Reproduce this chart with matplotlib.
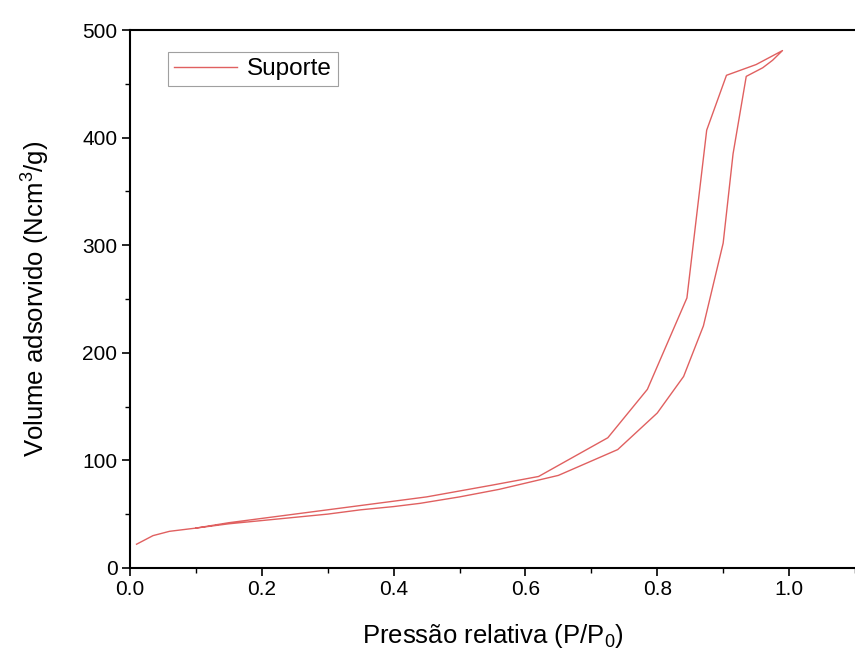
import matplotlib
matplotlib.use("Agg")
import matplotlib.pyplot as plt
from matplotlib.ticker import MultipleLocator

plt.rcParams['font.family'] = ['Liberation Sans', 'DejaVu Sans']
plt.rcParams['mathtext.default'] = 'regular'

# Adsorption branch (lower)
ads_x = [0.01, 0.035, 0.06, 0.10, 0.15, 0.20, 0.25, 0.30, 0.35, 0.40, 0.44, 0.50,
         0.56, 0.65, 0.74, 0.80, 0.84, 0.87, 0.90, 0.915, 0.935, 0.96, 0.975, 0.99]
ads_y = [22, 30, 34, 37, 41, 44, 47, 50, 54, 57, 60, 66,
         73, 86, 110, 144, 178, 225, 302, 385, 457, 465, 472, 481]
# Desorption branch (upper), from high to low pressure
des_x = [0.99, 0.95, 0.905, 0.875, 0.845, 0.785, 0.725, 0.62, 0.55, 0.45, 0.35, 0.25, 0.15, 0.10]
des_y = [481, 468, 458, 407, 251, 166, 121, 85, 77, 66, 58, 50, 42, 37]

x = ads_x + des_x
y = ads_y + des_y

fig = plt.figure(figsize=(8.55, 6.55), dpi=100)
ax = fig.add_axes([0.152, 0.133, 0.848, 0.821])
ax.plot(x, y, color='#e06060', lw=1.0, label='Suporte')

ax.set_xlim(0, 1.1)
ax.set_ylim(0, 500)
ax.xaxis.set_major_locator(MultipleLocator(0.2))
ax.xaxis.set_minor_locator(MultipleLocator(0.1))
ax.yaxis.set_major_locator(MultipleLocator(100))
ax.yaxis.set_minor_locator(MultipleLocator(50))
ax.xaxis.set_major_formatter(matplotlib.ticker.FormatStrFormatter('%.1f'))
ax.tick_params(which='major', direction='out', length=6, width=1.2, labelsize=15, pad=3)
ax.tick_params(which='minor', direction='out', length=3.5, width=1.0)
ax.tick_params(top=False, right=False, which='both')
ax.spines['right'].set_visible(False)
for s in ['left', 'bottom', 'top']:
    ax.spines[s].set_linewidth(1.5)

ax.set_xlabel('Pressão relativa (P/P$_0$)', fontsize=18.5, labelpad=16)
ax.set_ylabel('Volume adsorvido (Ncm$^3$/g)', fontsize=18.5, labelpad=22)

leg = ax.legend(loc='upper left', bbox_to_anchor=(0.052, 0.959), fontsize=17.5,
                frameon=True, fancybox=False, edgecolor='#888888',
                handlelength=2.6, borderpad=0.25, handletextpad=0.4,
                borderaxespad=0.0)
leg.get_frame().set_linewidth(0.8)

fig.savefig('out.png', dpi=100)
